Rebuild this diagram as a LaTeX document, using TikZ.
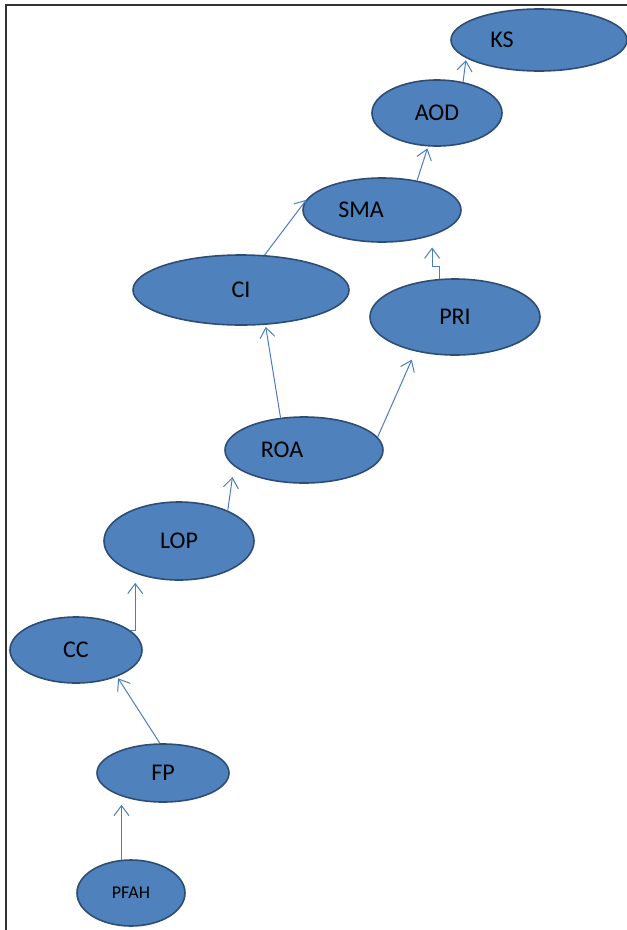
\documentclass[tikz,border=0pt]{standalone}
\usepackage{fontspec}
\setmainfont{Carlito}
\usetikzlibrary{arrows.meta,shapes.geometric}
\definecolor{blobfill}{HTML}{4F81BD}
\definecolor{blobline}{HTML}{2E4D75}
\definecolor{linkblue}{HTML}{4A7EC0}

\begin{document}
\begin{tikzpicture}[x=1pt, y=-1pt, >={Straight Barb[length=10pt,width=15pt]},
blob/.style={ellipse, draw=blobline, fill=blobfill, line width=1.6pt, font=\fontsize{24}{26}\selectfont},
link/.style={->, draw=linkblue, line width=1pt, shorten >=2pt}]
  \useasboundingbox (0,0) rectangle (627,930);
  \draw[line width=1.2pt, black!80] (6,930) -- (6,5) -- (627,5);
  \node[blob, minimum width=176pt, minimum height=62pt] (KS) at (539,40) {KS\kern74pt};
  \node[blob, minimum width=130pt, minimum height=66pt] (AOD) at (437,113) {AOD};
  \node[blob, minimum width=158pt, minimum height=64pt] (SMA) at (382,210) {SMA\kern42pt};
  \node[blob, minimum width=216pt, minimum height=70pt] (CI) at (241,290) {CI};
  \node[blob, minimum width=170pt, minimum height=76pt] (PRI) at (455,317) {PRI};
  \node[blob, minimum width=158pt, minimum height=66pt] (ROA) at (304,450) {ROA\kern44pt};
  \node[blob, minimum width=150pt, minimum height=78pt] (LOP) at (179,541) {LOP};
  \node[blob, minimum width=132pt, minimum height=66pt] (CC) at (76,650) {CC};
  \node[blob, minimum width=132pt, minimum height=58pt] (FP) at (163,773) {FP};
  \node[blob, minimum width=108pt, minimum height=66pt, font=\fontsize{18}{20}\selectfont] (PFAH) at (131,893) {PFAH};
  % links
  \draw[link] (PFAH.106) -- (PFAH.106 |- FP.south);
  \draw[link] (FP.96) -- (CC.-33);
  \draw[link] (CC.19) -- ++(4,0) coordinate (cc1) -- (cc1 |- LOP.south);
  \draw[link, shorten >=11pt] (LOP.32) -- (ROA.193);
  \draw[link] (ROA.126) -- (CI.-55);
  \draw[link, shorten >=9pt] (ROA.10) -- (PRI.221);
  \draw[link] (CI.56) -- (SMA.171);
  \draw[link, shorten >=12pt] (PRI.112) -- ++(0,-12) -| (SMA.-27.5);
  \draw[link] (SMA.40) -- (AOD.255);
  \draw[link] (AOD.50) -- (KS.194);
\end{tikzpicture}
\end{document}
